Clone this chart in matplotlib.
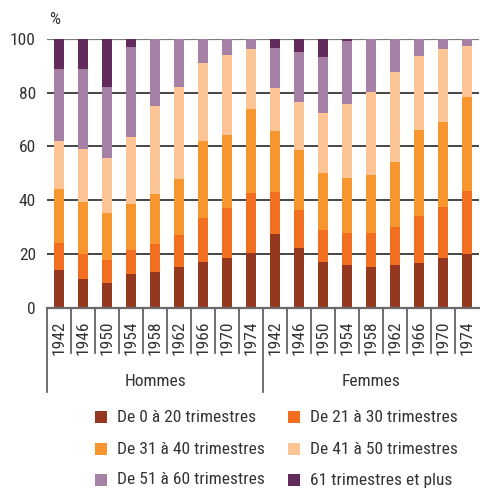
import matplotlib
matplotlib.use('Agg')
import matplotlib.pyplot as plt
from matplotlib.patches import Rectangle
import numpy as np

plt.rcParams['font.family'] = ['Roboto Condensed', 'DejaVu Sans']

years = ['1942', '1946', '1950', '1954', '1958', '1962', '1966', '1970', '1974']
groups = ['Hommes', 'Femmes']
series = ['De 0 à 20 trimestres', 'De 21 à 30 trimestres',
          'De 31 à 40 trimestres', 'De 41 à 50 trimestres',
          'De 51 à 60 trimestres', '61 trimestres et plus']
colors = ['#963820', '#F26F22', '#F7962E', '#FDC595', '#A681A5', '#632A5E']

# parts per cohort (%), one list per series
hommes = [
    [14.0, 10.7, 9.2, 12.5, 13.3, 15.1, 17.0, 18.5, 20.3],
    [10.2, 9.3, 8.5, 9.0, 10.4, 11.9, 16.4, 18.6, 22.4],
    [20.0, 19.3, 17.5, 17.1, 18.6, 20.9, 28.6, 27.2, 31.2],
    [17.8, 19.8, 20.5, 24.9, 32.8, 34.2, 29.1, 29.7, 22.4],
    [26.8, 29.7, 26.4, 33.5, 24.9, 17.9, 8.9, 6.0, 3.7],
    [11.2, 11.2, 17.9, 3.0, 0.0, 0.0, 0.0, 0.0, 0.0],
]
femmes = [
    [27.4, 22.2, 17.0, 15.9, 15.1, 15.9, 16.6, 18.5, 20.0],
    [15.7, 14.2, 11.9, 11.9, 12.7, 14.1, 17.5, 19.0, 23.4],
    [22.7, 22.3, 21.2, 20.5, 21.6, 24.2, 32.0, 31.6, 35.0],
    [16.0, 17.9, 22.4, 27.5, 30.9, 33.5, 27.6, 27.2, 19.0],
    [14.9, 18.6, 20.8, 23.5, 19.7, 12.3, 6.3, 3.7, 2.6],
    [3.3, 4.8, 6.7, 0.7, 0.0, 0.0, 0.0, 0.0, 0.0],
]

W, H = 480, 488
fig = plt.figure(figsize=(W / 100, H / 100), dpi=100)
ax = fig.add_axes([47 / W, 180.3 / H, 432 / W, 268.7 / H])

n = len(years)
x = np.arange(2 * n)
bottom = np.zeros(2 * n)
for k in range(len(series)):
    vals = np.array(hommes[k] + femmes[k])
    ax.bar(x, vals, width=0.42, bottom=bottom, color=colors[k], zorder=3, linewidth=0)
    bottom += vals

ax.set_xlim(-0.5, 2 * n - 0.5)
ax.set_ylim(0, 100)
for s in ax.spines.values():
    s.set_visible(False)

# horizontal grid
for v in [20, 40, 60, 80]:
    ax.axhline(v, color='#262626', lw=1.2, zorder=1)
ax.axhline(100, color='#7a7a7a', lw=1.6, zorder=1)
ax.axhline(0, color='#6a6a6a', lw=1.6, zorder=4, clip_on=False)

ax.set_yticks([0, 20, 40, 60, 80, 100])
ax.tick_params(axis='y', length=0, pad=8, labelsize=12.5, labelcolor='#333333')
ax.set_xticks(x)
ax.set_xticklabels(years + years, rotation=90, va='top')
ax.tick_params(axis='x', length=0, pad=9, labelsize=12.5, labelcolor='#333333')

# category separators under the axis
tr = ax.get_xaxis_transform()
for b in np.arange(2 * n) - 0.5:
    depth = -0.3137 if b in (-0.5, n - 0.5) else -0.1686
    ax.plot([b, b], [0, depth], color='#555555', lw=1.2, transform=tr, clip_on=False)

for i, g in enumerate(groups):
    ax.text(i * n + (n - 1) / 2, -0.273, g, transform=tr, ha='center', va='center',
            fontsize=12.5, color='#333333')

fig.text(49 / W, 1 - 19 / H, '%', ha='left', va='center', fontsize=12.5, color='#333333')

# legend
rows = [417, 449, 480]
cols = [95, 288]
for k, name in enumerate(series):
    cx = cols[k % 2]
    cy = rows[k // 2]
    fig.add_artist(Rectangle((cx / W, 1 - (cy + 6) / H), 12 / W, 12 / H,
                             transform=fig.transFigure, color=colors[k], lw=0))
    fig.text((cx + 22) / W, 1 - cy / H, name, ha='left', va='center',
             fontsize=12.5, color='#333333')

fig.savefig('out.png', dpi=100)
